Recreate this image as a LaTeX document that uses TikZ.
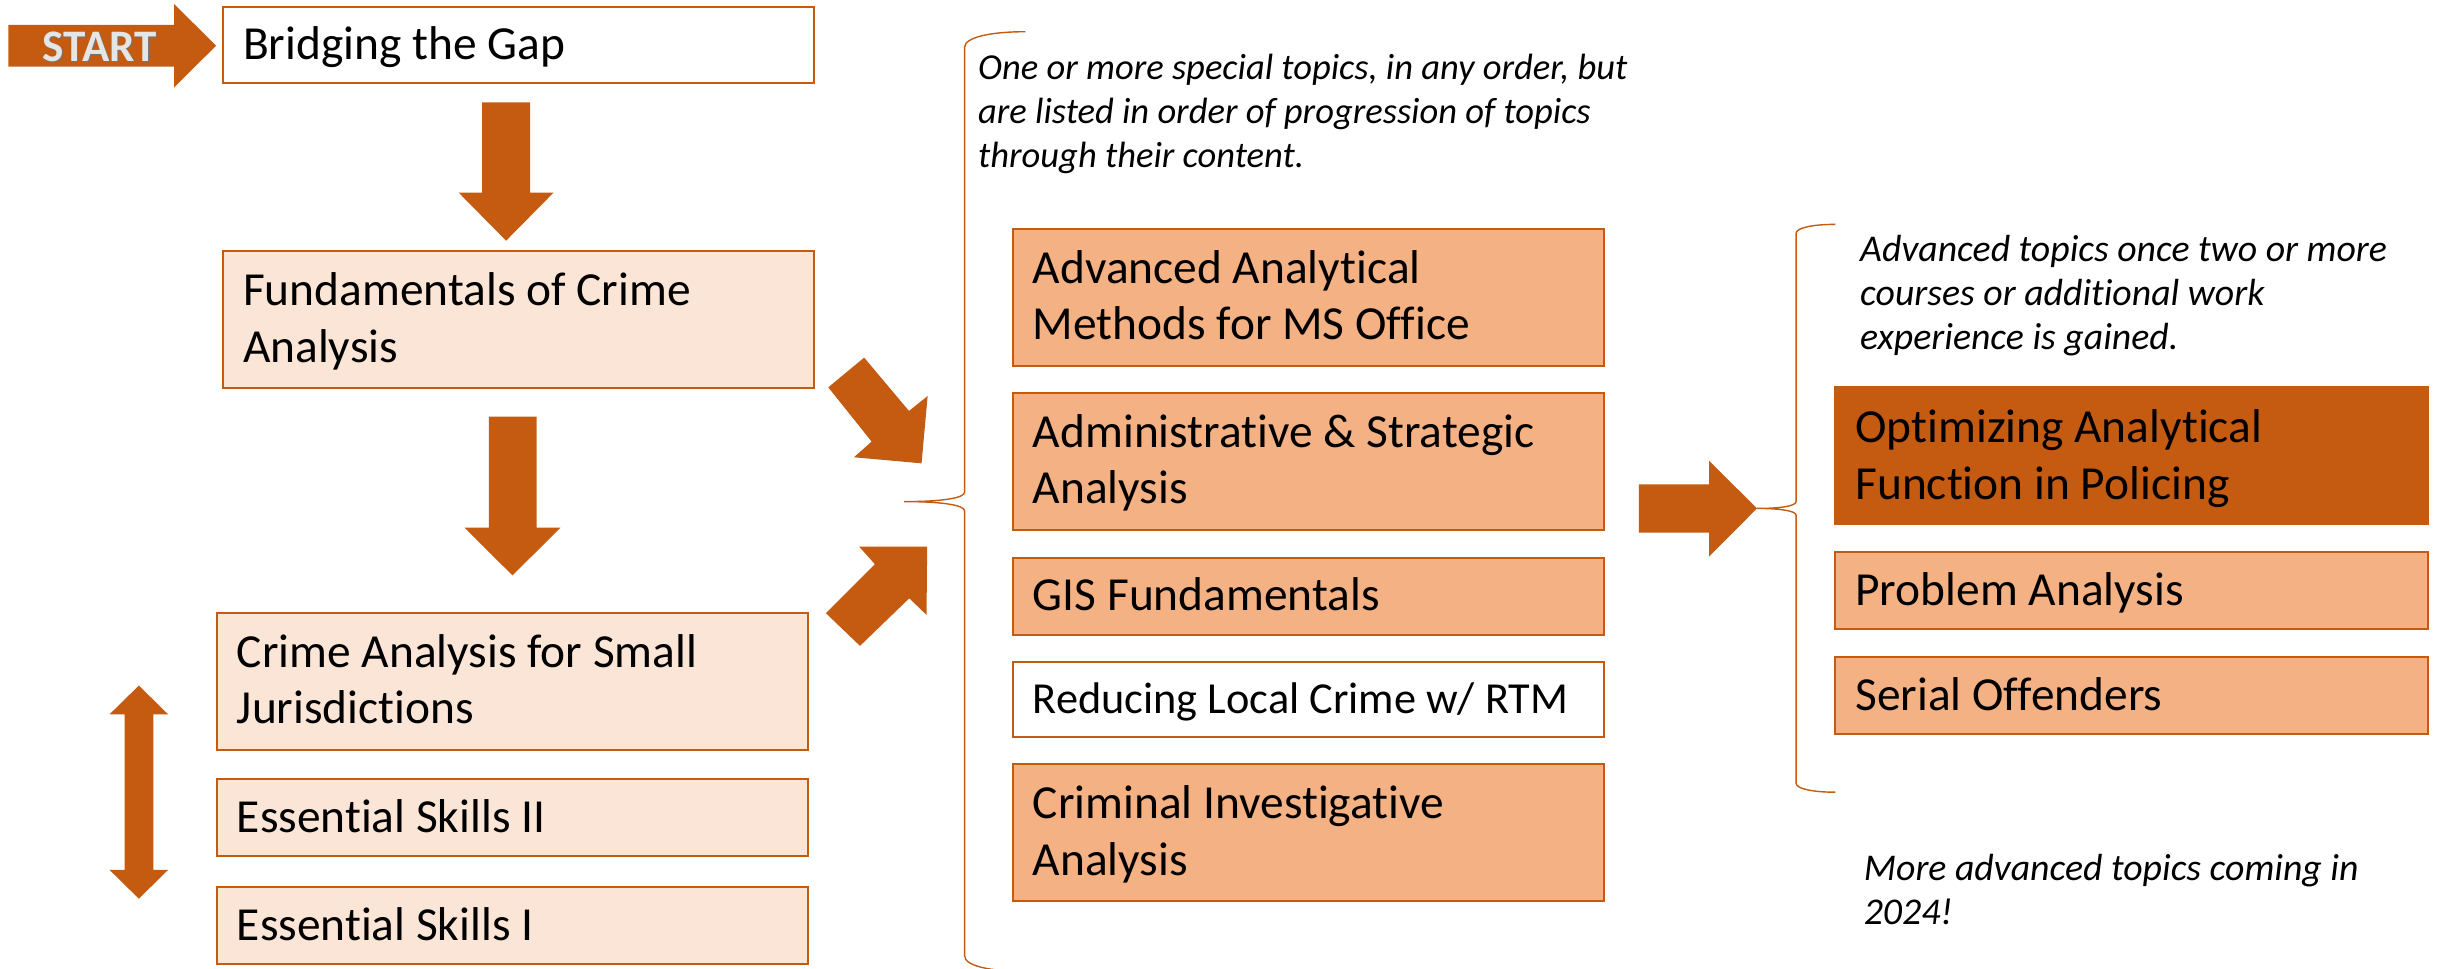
\documentclass[tikz,border=0pt]{standalone}
\usepackage{fontspec}
\setmainfont{Carlito}[Ligatures=NoCommon]
\usetikzlibrary{calc}
\definecolor{dorange}{HTML}{C55A11}
\definecolor{lfill}{HTML}{FBE5D6}
\definecolor{mfill}{HTML}{F4B183}
\newcommand{\twoline}[2]{\begin{tabular}[t]{@{}l@{}}#1\\#2\end{tabular}}
\newcommand{\threeline}[3]{\begin{tabular}[t]{@{}l@{}}#1\\#2\\#3\end{tabular}}
\begin{document}
\begin{tikzpicture}[x=1pt,y=-1pt,
  box/.style={draw=dorange, line width=1.3pt, rectangle, inner sep=0pt, minimum width=380pt},
  onebox/.style={box, minimum height=49.5pt},
  twobox/.style={box, minimum height=88pt},
  btxt/.style={anchor=base west, inner sep=0pt, font=\fontsize{30.5}{36.5}\selectfont},
  itxt/.style={anchor=base west, inner sep=0pt, font=\fontsize{23.5}{28.3}\selectfont\itshape},
  ritxt/.style={anchor=base west, inner sep=0pt, font=\fontsize{24.3}{28.3}\selectfont\itshape},
  blk/.style={fill=dorange, draw=none},
  brace/.style={draw=dorange, line width=0.9pt},
]
\useasboundingbox (0,0) rectangle (1568,623);
\clip (0,0) rectangle (1568,623);

% ---------- left column ----------
\node[box, fill=white, minimum height=48.9pt] (bridge) at (333.35,28.75) {};
\node[twobox, fill=lfill] (fund) at (333.35,205.55) {};
\node[twobox, fill=lfill] (crime) at (329.4,438.05) {};
\node[onebox, fill=lfill] (es2) at (329.4,526) {};
\node[onebox, fill=lfill] (es1) at (329.4,595.15) {};

\node[btxt] (tbridge) at ($(bridge.west)+(13.4,9.8)$) {Bridging the Gap};
\node[btxt] (tfund) at ($(fund.west)+(13.4,-9)$) {\twoline{Fundamentals of Crime}{Analysis}};
\node[btxt] (tcrime) at ($(crime.west)+(13.4,-9)$) {\twoline{Crime Analysis for Small}{Jurisdictions}};
\node[btxt] (tes2) at ($(es2.west)+(13.4,9.5)$) {Essential Skills II};
\node[btxt] (tes1) at ($(es1.west)+(13.4,9.5)$) {Essential Skills I};

% START arrow
\fill[blk] (5.4,16) -- (112,16) -- (112,2.6) -- (139,29.4) -- (112,56.2) -- (112,42.9) -- (5.4,42.9) -- cycle;
\node[anchor=base, inner sep=0pt, font=\fontsize{29}{29}\selectfont\bfseries, text=black!55] (startshadow) at (64.8,40.5) {START};
\node[anchor=base, inner sep=0pt, font=\fontsize{29}{29}\selectfont\bfseries, text=black!10] (starttxt) at (64,39.7) {START};

% down arrows
\fill[blk] (310,65.8) -- (341,65.8) -- (341,123.9) -- (356,123.9) -- (325.5,154.8) -- (295,123.9) -- (310,123.9) -- cycle;
\fill[blk] (314.4,268) -- (345.1,268) -- (345.1,339.4) -- (360.4,339.4) -- (329.6,370.1) -- (298.8,339.4) -- (314.4,339.4) -- cycle;

% double arrow
\fill[blk] (89.3,440.9) -- (108.2,459.5) -- (98.6,459.5) -- (98.6,559.4) -- (108.2,559.4) -- (89.3,578) -- (70.4,559.4) -- (80.2,559.4) -- (80.2,459.5) -- (70.4,459.5) -- cycle;

% diagonal arrows
\fill[blk] (532.7,249.1) -- (555.8,230.0) -- (584.6,264.3) -- (596.6,254.7) -- (592.7,298.0) -- (549.2,294.1) -- (560.6,284.0) -- cycle;
\fill[blk] (531.2,394.4) -- (562.7,362.9) -- (552.6,351.6) -- (596.3,351.6) -- (595.9,395.5) -- (584.8,384.8) -- (553.1,415.4) -- cycle;

% ---------- middle column ----------
\draw[brace] (659.5,20.4) .. controls (637,20.4) and (620.4,24) .. (620.4,30.4)
  -- (620.4,316.5) .. controls (620.4,320.5) and (605,322.6) .. (581.5,322.6)
  .. controls (605,322.6) and (620.4,324.7) .. (620.4,328.7)
  -- (620.4,614.8) .. controls (620.4,621.2) and (637,624.8) .. (659.5,624.8);

\node[itxt] (mnote) at (628.9,51.4) {\threeline{One or more special topics, in any order, but}{are listed in order of progression of topics}{through their content.}};

\node[twobox, fill=mfill] (adv) at (841.35,191.1) {};
\node[twobox, fill=mfill] (admin) at (841.35,296.6) {};
\node[onebox, fill=mfill] (gis) at (841.35,383.35) {};
\node[box, fill=white, minimum height=48.3pt] (rtm) at (841.35,449.85) {};
\node[twobox, fill=mfill] (cia) at (841.35,535.3) {};

\node[btxt] (tadv) at ($(adv.west)+(13.4,-9)$) {\twoline{Advanced Analytical}{Methods for MS Office}};
\node[btxt] (tadmin) at ($(admin.west)+(13.4,-9)$) {\twoline{Administrative \& Strategic}{Analysis}};
\node[btxt] (tgis) at ($(gis.west)+(13.4,9.6)$) {GIS Fundamentals};
\node[btxt, font=\fontsize{28.5}{34}\selectfont] (trtm) at ($(rtm.west)+(13.4,9.1)$) {Reducing Local Crime w/ RTM};
\node[btxt] (tcia) at ($(cia.west)+(13.4,-9)$) {\twoline{Criminal Investigative}{Analysis}};

% right arrow
\fill[blk] (1054,311.5) -- (1099.2,311.5) -- (1099.2,296.3) -- (1130,327) -- (1099.2,358) -- (1099.2,342.6) -- (1054,342.6) -- cycle;

% ---------- right column ----------
\draw[brace] (1180.4,144.3) .. controls (1166,144.3) and (1155.2,146.5) .. (1155.2,150)
  -- (1155.2,322.5) .. controls (1155.2,325.5) and (1145,327) .. (1130,327)
  .. controls (1145,327) and (1155.2,328.5) .. (1155.2,331.5)
  -- (1155.2,503.8) .. controls (1155.2,507.3) and (1166,509.5) .. (1180.4,509.5);

\node[ritxt] (rnote) at (1196.2,168.4) {\threeline{Advanced topics once two or more}{courses or additional work}{experience is gained.}};

\node[twobox, fill=dorange, minimum width=381pt] (opt) at (1370.85,293.1) {};
\node[onebox, fill=mfill, minimum width=381pt] (prob) at (1370.85,379.55) {};
\node[onebox, fill=mfill, minimum width=381pt] (serial) at (1370.85,447.05) {};

\node[btxt] (topt) at ($(opt.west)+(13.4,-8.5)$) {\twoline{Optimizing Analytical}{Function in Policing}};
\node[btxt] (tprob) at ($(prob.west)+(13.4,9.6)$) {Problem Analysis};
\node[btxt] (tserial) at ($(serial.west)+(13.4,9.6)$) {Serial Offenders};

\node[ritxt] (more) at (1198.5,566.2) {\twoline{More advanced topics coming in}{2024!}};
\end{tikzpicture}
\end{document}
